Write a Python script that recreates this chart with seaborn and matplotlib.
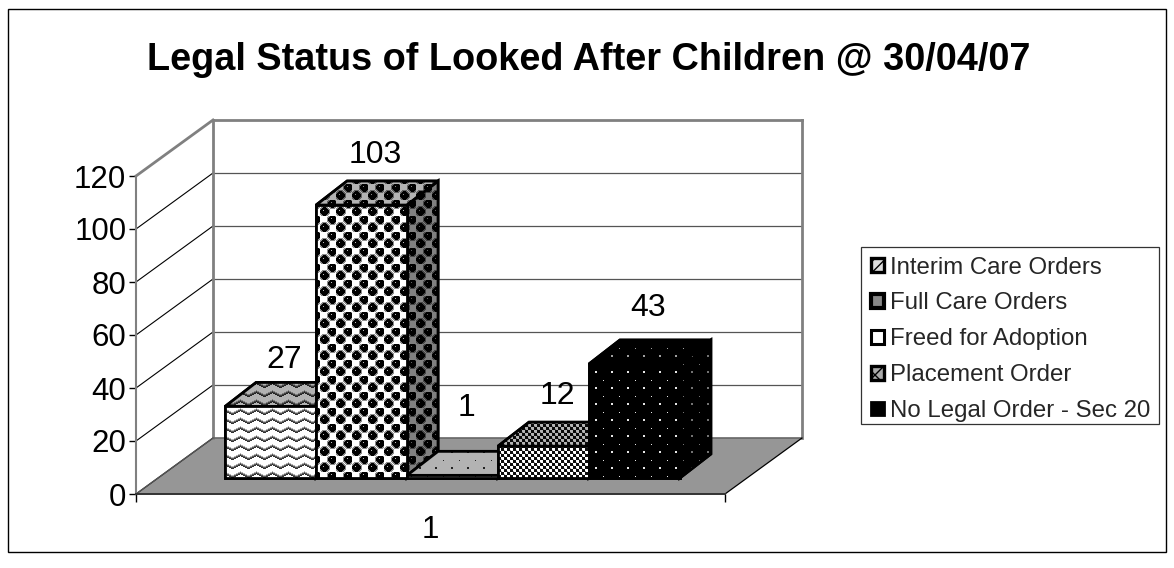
import numpy as np
import pandas as pd
import matplotlib
matplotlib.use('Agg')
import matplotlib.pyplot as plt
import seaborn as sns
from matplotlib.patches import Patch, Polygon, Rectangle
from matplotlib.transforms import Affine2D, IdentityTransform

# Data
group = ['1']
statuses = ['Interim Care Orders', 'Full Care Orders', 'Freed for Adoption',
            'Placement Order', 'No Legal Order - Sec 20']
counts = [27, 103, 1, 12, 43]
y_ticks = [0, 20, 40, 60, 80, 100, 120]
title = 'Legal Status of Looked After Children @ 30/04/07'

# extra lift of each value label above its bar, px
label_lift = [46, 50, 67, 50, 56]

W, H = 1174, 568
FLOOR_DX, FLOOR_DY = 77, 56     # depth of the whole floor
BAR_DX, BAR_DY = 22, 16         # where bars start on the floor
DEPTH_DX, DEPTH_DY = 31, 24     # depth of one bar
EDGE = 2.0


def wave_tile():
    t = np.ones((9, 16))
    for x in range(16):
        y = int(abs(x - 8) * 4 / 8)
        t[y, x] = 0.2
        t[y + 1, x] = 0.35
        t[(y + 2) % 9, x] = 0.7
    return t


def ball_tile():
    t = np.ones((16, 16))
    yy, xx = np.mgrid[0:16, 0:16]
    for cx, cy in [(4, 4), (12, 12)]:
        d = np.hypot(xx - cx, yy - cy)
        t[d < 5.6] = 0.55
    for cx, cy in [(4, 4), (12, 12)]:
        d = np.hypot(xx - cx, yy - cy)
        t[d < 4.2] = 0.0
        t[cy + 1, cx - 1] = 0.75
    return t


def dot_tile(back, ink):
    t = np.full((16, 16), back, dtype=float)
    t[3:5, 3:5] = ink
    t[11, 11] = ink
    return t


def check_tile():
    t = np.ones((6, 6))
    t[0:3, 0:3] = 0.05
    t[3:6, 3:6] = 0.05
    t[0, 3] = 0.6
    t[3, 0] = 0.6
    return t


tiles = [wave_tile(), ball_tile(), dot_tile(1.0, 0.2), check_tile(), dot_tile(0.0, 0.9)]

sns.set_theme(style='white')
plt.rcParams['font.family'] = ['Liberation Sans', 'DejaVu Sans']

df = pd.DataFrame({'group': group * len(statuses), 'status': statuses, 'count': counts})

fig = plt.figure(figsize=(W / 100, H / 100), dpi=100, facecolor='white')
ax = fig.add_axes([136 / W, (H - 494) / H, 589 / W, 318 / H])
ax.patch.set_alpha(0)

sns.barplot(data=df, x='group', y='count', hue='status', hue_order=statuses,
            palette=['white'] * 5, saturation=1, width=0.772, gap=0,
            edgecolor='black', linewidth=EDGE, legend=False, ax=ax)
ax.set_xlim(-0.5, 0.5)
ax.set_ylim(0, 120)
ax.set_xlabel('')
ax.set_ylabel('')
ax.set_yticks(y_ticks)
ax.set_xticks([0], group)
ax.set_xticks([-0.5, 0.5], minor=True)
ax.tick_params(axis='y', labelsize=22.5, length=5, width=1, color='black', pad=2,
               left=True, labelcolor='black')
ax.tick_params(axis='x', which='major', labelsize=22.5, length=0, pad=15, labelcolor='black')
ax.tick_params(axis='x', which='minor', length=6, width=1, color='black', bottom=True)
for s in ['top', 'right']:
    ax.spines[s].set_visible(False)
ax.spines['left'].set_color('#808080')
ax.spines['left'].set_linewidth(1.5)
ax.spines['bottom'].set_color('#333333')
ax.spines['bottom'].set_linewidth(1.4)

ident = IdentityTransform()


def px(x, y):
    return np.array(ax.transData.transform((x, y)))


# walls and floor, built from the axes scale
x0, x1 = ax.get_xlim()
back = np.array([FLOOR_DX, FLOOR_DY])
floor = [px(x0, 0), px(x1, 0), px(x1, 0) + back, px(x0, 0) + back]
ax.add_patch(Polygon(floor, closed=True, facecolor='#969696', edgecolor='none',
                     transform=ident, clip_on=False, zorder=0.5))
for t in y_ticks[1:-1]:
    ax.plot(*zip(px(x0, t) + back, px(x1, t) + back), color='#555555', lw=0.9,
            transform=ident, clip_on=False, zorder=0.6)
for t in y_ticks[:-1]:
    ax.plot(*zip(px(x0, t), px(x0, t) + back), color='black', lw=0.8,
            transform=ident, clip_on=False, zorder=0.7)
top_l, top_r = px(x0, 120) + back, px(x1, 120) + back
bot_l, bot_r = px(x0, 0) + back, px(x1, 0) + back
for a, b in [(px(x0, 120), top_l), (top_l, top_r), (top_r, bot_r), (top_l, bot_l)]:
    ax.plot(*zip(a, b), color='#808080', lw=2.0, transform=ident, clip_on=False,
            zorder=0.8, solid_capstyle='projecting')
ax.plot(*zip(bot_l, bot_r), color='#666666', lw=1.2, transform=ident, clip_on=False, zorder=0.8)
ax.plot(*zip(px(x1, 0), bot_r), color='black', lw=0.9, transform=ident, clip_on=False, zorder=0.8)
ax.plot(*zip(px(x0, 0), bot_l), color='#555555', lw=1.0, transform=ident, clip_on=False, zorder=0.8)


def paint(tile, shade, clip, z):
    rows = H // tile.shape[0] + 1
    cols = W // tile.shape[1] + 1
    img = np.tile(tile, (rows, cols))[:H, :W] * shade
    im = ax.imshow(img, cmap='gray', vmin=0, vmax=1, origin='lower', aspect='auto',
                   extent=(0, W, 0, H), interpolation='nearest', transform=ident, zorder=z)
    im.set_clip_path(clip)


bar_shift = Affine2D().translate(BAR_DX, BAR_DY)
depth = np.array([DEPTH_DX, DEPTH_DY])
bars = [c[0] for c in ax.containers]
for i, (bar, tile, value, lift) in enumerate(zip(bars, tiles, counts, label_lift)):
    z = 3 + i
    bar.set_transform(ax.transData + bar_shift)
    bar.set_clip_on(False)
    bx0, bx1 = bar.get_x(), bar.get_x() + bar.get_width()
    shift = np.array([BAR_DX, BAR_DY])
    fl, fr = px(bx0, 0) + shift, px(bx1, 0) + shift
    tl, tr = px(bx0, value) + shift, px(bx1, value) + shift

    top = Polygon([tl, tr, tr + depth, tl + depth], closed=True, transform=ident,
                  facecolor='white', edgecolor='black', lw=EDGE, zorder=z, clip_on=False)
    side = Polygon([fr, tr, tr + depth, fr + depth], closed=True, transform=ident,
                   facecolor='white', edgecolor='black', lw=EDGE, zorder=z, clip_on=False)
    ax.add_patch(top)
    ax.add_patch(side)
    paint(tile, 0.7, top, z + 0.1)
    paint(tile, 0.5, side, z + 0.1)
    for face in (top, side):
        ax.add_patch(Polygon(face.get_xy(), closed=True, transform=ident, fill=False,
                             edgecolor='black', lw=EDGE, zorder=z + 0.2, clip_on=False))
    bar.set_zorder(z + 0.3)
    paint(tile, 1.0, bar, z + 0.4)
    ax.add_patch(Polygon([fl, fr, tr, tl], closed=True, transform=ident, fill=False,
                         edgecolor='black', lw=EDGE, zorder=z + 0.5, clip_on=False))

    cx = (tl[0] + tr[0]) / 2 + 14
    ax.annotate(str(value), xy=(cx, tl[1] + lift), xycoords=ident, ha='center', va='center',
                fontsize=23, color='black', zorder=20, annotation_clip=False)

ax.set_xlim(x0, x1)
ax.set_ylim(0, 120)

# chart frame and title
fig.add_artist(Rectangle((8, H - 552), 1158, 543, transform=ident, fill=False,
                         edgecolor='black', lw=1))
fig.text(588.5 / W, 1 - 60 / H, title, fontsize=27.3, fontweight='bold', color='black',
         ha='center', va='center')

handles = [
    Patch(facecolor='#dddddd', edgecolor='black', lw=2.4, hatch='///', label=statuses[0]),
    Patch(facecolor='#888888', edgecolor='black', lw=3.0, label=statuses[1]),
    Patch(facecolor='white', edgecolor='black', lw=2.2, label=statuses[2]),
    Patch(facecolor='#aaaaaa', edgecolor='black', lw=2.4, hatch='xx', label=statuses[3]),
    Patch(facecolor='black', edgecolor='black', lw=2.0, label=statuses[4]),
]
# legend box drawn separately so it sits tight round the rows, behind the axes
fig.add_artist(Rectangle((861, H - 424), 298, 177, transform=ident, facecolor='white',
                         edgecolor='#333333', lw=0.9, zorder=-1))
leg = ax.legend(handles=handles, loc='upper left', bbox_to_anchor=(861 / W, 1 - 247 / H),
                bbox_transform=fig.transFigure, borderaxespad=0, fontsize=17.25, frameon=False,
                labelspacing=0.58, handlelength=0.58, handleheight=0.5, handletextpad=0.22,
                borderpad=0.4)
leg.set_zorder(30)

fig.savefig('out.png', dpi=100)
